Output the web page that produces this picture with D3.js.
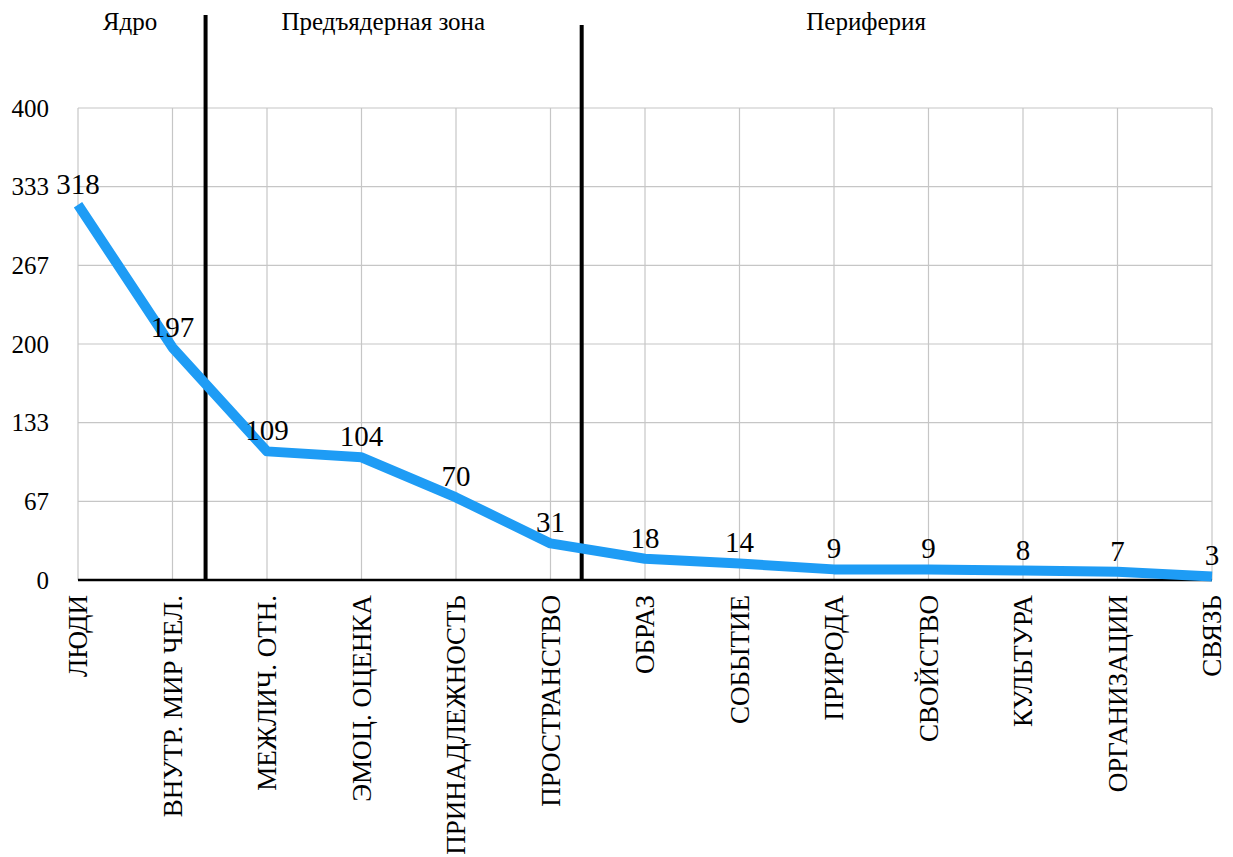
<!DOCTYPE html>
<html>
<head>
<meta charset="utf-8">
<script src="https://cdn.jsdelivr.net/npm/d3@7"></script>
<style>
  html, body { margin: 0; padding: 0; background: #fff; }
  svg { display: block; }
</style>
</head>
<body>
<svg id="chart" width="1233" height="857" font-family="'Liberation Serif', 'Times New Roman', Tinos, 'DejaVu Serif', serif"></svg>
<script>
// Categories of the associative field and their frequencies
const categories = ["ЛЮДИ", "ВНУТР. МИР ЧЕЛ.", "МЕЖЛИЧ. ОТН.", "ЭМОЦ. ОЦЕНКА", "ПРИНАДЛЕЖНОСТЬ",
  "ПРОСТРАНСТВО", "ОБРАЗ", "СОБЫТИЕ", "ПРИРОДА", "СВОЙСТВО", "КУЛЬТУРА", "ОРГАНИЗАЦИИ", "СВЯЗЬ"];
const values = [318, 197, 109, 104, 70, 31, 18, 14, 9, 9, 8, 7, 3];

// Y axis ticks (six equal steps up to 400) and their printed labels
const tickValues = [0, 66.67, 133.33, 200, 266.67, 333.33, 400];
const tickLabels = ["0", "67", "133", "200", "267", "333", "400"];

// Zones: name, label position and boundaries (in category-index units)
const zoneNames = ["Ядро", "Предъядерная зона", "Периферия"];
const zoneLabelPos = [0.55, 3.23, 8.34];
const zoneBoundaries = [1.35, 5.33];

const svg = d3.select("#chart");
const plotLeft = 78, plotRight = 1212, plotTop = 108, plotBottom = 580;

const x = d3.scalePoint().domain(d3.range(categories.length)).range([plotLeft, plotRight]);
const y = d3.scaleLinear().domain([0, 400]).range([plotBottom, plotTop]);
const xf = i => plotLeft + i * x.step();

// Horizontal gridlines
svg.append("g").selectAll("line").data(tickValues).join("line")
  .attr("x1", plotLeft).attr("x2", plotRight)
  .attr("y1", d => y(d)).attr("y2", d => y(d))
  .attr("stroke", "#c6c6c6").attr("stroke-width", 1.2);

// Vertical gridlines at each category
svg.append("g").selectAll("line").data(d3.range(categories.length)).join("line")
  .attr("x1", d => x(d)).attr("x2", d => x(d))
  .attr("y1", plotTop).attr("y2", plotBottom)
  .attr("stroke", "#c6c6c6").attr("stroke-width", 1.2);

// Y tick labels
svg.append("g").selectAll("text").data(tickValues).join("text")
  .attr("x", 49).attr("y", d => y(d)).attr("dy", "0.35em")
  .attr("text-anchor", "end").attr("font-size", 25)
  .text((d, i) => tickLabels[i]);

// X axis baseline
svg.append("line")
  .attr("x1", plotLeft).attr("x2", plotRight).attr("y1", plotBottom).attr("y2", plotBottom)
  .attr("stroke", "#000").attr("stroke-width", 2.5);

// Zone separators
const sepTops = [15, 25];
svg.append("g").selectAll("line").data(zoneBoundaries).join("line")
  .attr("x1", d => xf(d)).attr("x2", d => xf(d))
  .attr("y1", (d, i) => sepTops[i]).attr("y2", plotBottom)
  .attr("stroke", "#000").attr("stroke-width", 4);

// Zone titles
svg.append("g").selectAll("text").data(zoneNames).join("text")
  .attr("x", (d, i) => xf(zoneLabelPos[i])).attr("y", 30)
  .attr("text-anchor", "middle").attr("font-size", 25)
  .text(d => d);

// Frequency line
const line = d3.line().x((d, i) => x(i)).y(d => y(d));
svg.append("path").datum(values)
  .attr("d", line)
  .attr("fill", "none").attr("stroke", "#1E9CF5")
  .attr("stroke-width", 10).attr("stroke-linejoin", "round");

// Value labels
svg.append("g").selectAll("text").data(values).join("text")
  .attr("x", (d, i) => x(i)).attr("y", d => y(d) - 11)
  .attr("text-anchor", "middle").attr("font-size", 29)
  .text(d => d);

// Category labels, rotated
svg.append("g").selectAll("text").data(categories).join("text")
  .attr("transform", (d, i) => `translate(${x(i)},595) rotate(-90)`)
  .attr("dy", "0.35em").attr("text-anchor", "end").attr("font-size", 27)
  .text(d => d);
</script>
</body>
</html>
